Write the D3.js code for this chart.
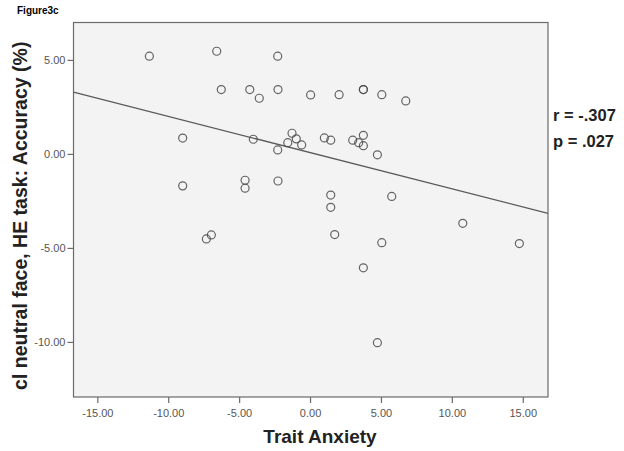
<!DOCTYPE html>
<html>
<head>
<meta charset="utf-8">
<script src="https://cdn.jsdelivr.net/npm/d3@7"></script>
<style>
  body { margin: 0; background: #fff; }
  text { font-family: "Liberation Sans", Arial, sans-serif; }
</style>
</head>
<body>
<svg id="chart" width="624" height="451"></svg>
<script>
// trait anxiety (x) vs accuracy (y)
var anxiety = [
    -11.33, -6.58, -2.28, -6.26, -4.25, -3.58, -2.26, 0.04,
    -8.98, -4.00, -1.27, -0.97, -1.57, -0.59, -2.28,
    -8.98, -4.58, -4.58, -2.26,
    2.05, 3.76, 3.76, 5.06, 6.75,
    1.01, 1.46, 3.01, 3.43, 3.76, 3.76, 4.75,
    1.46, 5.76, 1.46, 10.77, 1.74, 5.06, 14.76, 3.76, 4.75,
    -7.31, -6.96
]
var accuracy = [
    5.20, 5.46, 5.20, 3.42, 3.42, 2.96, 3.42, 3.14,
    0.84, 0.78, 1.10, 0.80, 0.60, 0.48, 0.21,
    -1.70, -1.40, -1.82, -1.44,
    3.15, 3.42, 3.42, 3.15, 2.82,
    0.85, 0.73, 0.73, 0.60, 0.99, 0.44, -0.05,
    -2.19, -2.26, -2.84, -3.69, -4.29, -4.72, -4.77, -6.06, -10.04,
    -4.52, -4.31
]

var xTicks = [-15, -10, -5, 0, 5, 10, 15]
var yTicks = [5, 0, -5, -10]

// fit line as printed
var fitSlope = -0.1925
var fitIntercept = 0.07
var statsText = ["r = -.307", "p = .027"]

var svg = d3.select("svg#chart")

var plotLeft = 73.5, plotRight = 548, plotTop = 22.5, plotBottom = 397

var x = d3.scaleLinear().domain([-16.68, 16.78]).range([plotLeft, plotRight])
var y = d3.scaleLinear().domain([-12.93, 6.99]).range([plotBottom, plotTop])

var fmt = function (d) { return d3.format(".2f")(d).replace("\u2212", "-") }

svg.append("text").attr("x", 17).attr("y", 14)
    .text("Figure3c").style("font-size", "10px").style("font-weight", "bold")

svg.append("rect")
    .attr("x", plotLeft).attr("y", plotTop)
    .attr("width", plotRight - plotLeft).attr("height", plotBottom - plotTop)
    .attr("fill", "#f3f3f3")

var pts = d3.range(anxiety.length).map(function (i) {
    return {x: anxiety[i], y: accuracy[i]}
})

var xd = x.domain()
svg.append("line")
    .attr("x1", x(xd[0])).attr("y1", y(fitIntercept + fitSlope * xd[0]))
    .attr("x2", x(xd[1])).attr("y2", y(fitIntercept + fitSlope * xd[1]))
    .attr("stroke", "#5a5a5a").attr("stroke-width", 1.3)

svg.append("g").selectAll("circle").data(pts).enter()
    .append("circle")
    .attr("cx", function (d) { return x(d.x) })
    .attr("cy", function (d) { return y(d.y) })
    .attr("r", 4)
    .attr("fill", "none")
    .attr("stroke", "#4a4a4a")
    .attr("stroke-width", 1.2)
    .attr("stroke-opacity", 0.85)

// frame
svg.append("rect")
    .attr("x", plotLeft).attr("y", plotTop)
    .attr("width", plotRight - plotLeft).attr("height", plotBottom - plotTop)
    .attr("fill", "none").attr("stroke", "#6a6a6a").attr("stroke-width", 1.2)

var xAxis = svg.append("g").attr("transform", "translate(0," + plotBottom + ")")
    .call(d3.axisBottom(x).tickValues(xTicks).tickSize(6).tickPadding(6).tickFormat(fmt))
var yAxis = svg.append("g").attr("transform", "translate(" + plotLeft + ",0)")
    .call(d3.axisLeft(y).tickValues(yTicks).tickSize(6).tickPadding(2).tickFormat(fmt))

;[xAxis, yAxis].forEach(function (a) {
    a.select(".domain").remove()
    a.selectAll(".tick line").attr("stroke", "#6a6a6a").attr("stroke-width", 1.2)
    a.selectAll(".tick text").attr("fill", "#555")
        .style("font-size", "11px").style("font-family", "'Liberation Sans', Arial, sans-serif")
})

svg.append("text")
    .attr("x", 320).attr("y", 443)
    .attr("text-anchor", "middle")
    .text("Trait Anxiety").style("font-size", "19px").style("font-weight", "bold").attr("fill", "#222")

svg.append("text")
    .attr("transform", "translate(27," + ((plotTop + plotBottom) / 2 + 6) + ") rotate(-90)")
    .attr("text-anchor", "middle")
    .text("cl neutral face, HE task: Accuracy (%)")
    .style("font-size", "19.5px").style("font-weight", "bold").attr("fill", "#222")

statsText.forEach(function (t, i) {
    svg.append("text").attr("x", 553).attr("y", 121 + i * 26)
        .text(t).style("font-size", "16.5px").style("font-weight", "bold").attr("fill", "#222")
})
</script>
</body>
</html>
